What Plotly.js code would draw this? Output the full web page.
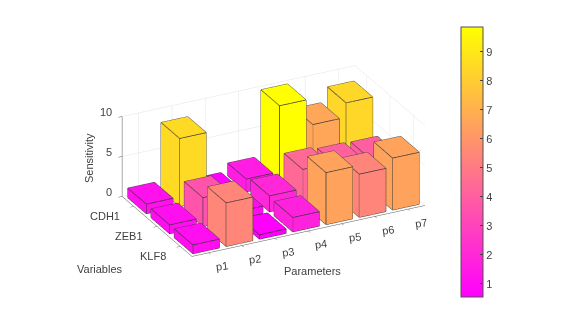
<!DOCTYPE html>
<html>
<head>
<meta charset="utf-8">
<script src="https://cdn.plot.ly/plotly-3.0.1.min.js"></script>
<style>
    html, body { margin: 0; padding: 0; background: #fff; }
    #chart { width: 561px; height: 320px; }
</style>
</head>
<body>
<div id="chart"></div>
<script>
const parameters = ['p1', 'p2', 'p3', 'p4', 'p5', 'p6', 'p7'];
const variables = ['KLF8', 'ZEB1', 'CDH1'];
const klf8 = [1.1, 5.45, 0.55, 1.8, 6.5, 5.4, 6.5];
const zeb1 = [1.1, 3.6, 0.9, 2.0, 4.4, 4.1, 4.0];
const cdh1 = [1.2, 8.5, 0.6, 1.6, 9.86, 6.6, 8.4];
const colorTicks = [1, 2, 3, 4, 5, 6, 7, 8, 9];
const sensitivityTicks = [0, 5, 10];

const rows = [klf8, zeb1, cdh1];
const barHalf = 0.4;
const textColor = '#404040';
const tickFont = { family: 'Liberation Sans, Arial, sans-serif', size: 11, color: textColor };

// 棒ごとに頂点と面を積み上げる
const vx = [], vy = [], vz = [], vi = [], vj = [], vk = [], level = [];
const ex = [], ey = [], ez = [];

function addBar(cx, cy, h) {
    const n = vx.length;
    const xs = [cx - barHalf, cx + barHalf, cx + barHalf, cx - barHalf];
    const ys = [cy - barHalf, cy - barHalf, cy + barHalf, cy + barHalf];
    [0, h].forEach(z => {
        for (let c = 0; c < 4; c++) {
            vx.push(xs[c]); vy.push(ys[c]); vz.push(z); level.push(h);
        }
    });
    const faces = [
        [0, 1, 2], [0, 2, 3], [4, 5, 6], [4, 6, 7],
        [0, 1, 5], [0, 5, 4], [1, 2, 6], [1, 6, 5],
        [2, 3, 7], [2, 7, 6], [3, 0, 4], [3, 4, 7]
    ];
    faces.forEach(f => { vi.push(n + f[0]); vj.push(n + f[1]); vk.push(n + f[2]); });

    // 輪郭線
    for (let c = 0; c < 4; c++) {
        const d = (c + 1) % 4;
        ex.push(xs[c], xs[d], null, xs[c], xs[d], null, xs[c], xs[c], null);
        ey.push(ys[c], ys[d], null, ys[c], ys[d], null, ys[c], ys[c], null);
        ez.push(0, 0, null, h, h, null, 0, h, null);
    }
}

rows.forEach((row, r) => row.forEach((h, p) => addBar(p + 1, r + 1, h)));

const allValues = rows.flat();

const bars = {
    type: 'mesh3d',
    x: vx, y: vy, z: vz, i: vi, j: vj, k: vk,
    intensity: level,
    cmin: Math.min(...allValues),
    cmax: Math.max(...allValues),
    colorscale: [[0, 'rgb(255,0,255)'], [1, 'rgb(255,255,0)']],
    flatshading: true,
    lighting: { ambient: 1, diffuse: 0, specular: 0, roughness: 1, fresnel: 0 },
    hoverinfo: 'skip',
    colorbar: {
        x: 461 / 561, xanchor: 'left', xpad: 0,
        y: 1 - 27 / 320, yanchor: 'top', ypad: 0,
        len: 270, lenmode: 'pixels',
        thickness: 22, thicknessmode: 'pixels',
        tickmode: 'array', tickvals: colorTicks,
        ticks: 'inside', ticklen: 3, tickcolor: '#404040',
        tickfont: tickFont,
        outlinecolor: '#505050', outlinewidth: 1, borderwidth: 0
    }
};

const edges = {
    type: 'scatter3d', mode: 'lines',
    x: ex, y: ey, z: ez,
    line: { color: '#333333', width: 1.5 },
    hoverinfo: 'skip', showlegend: false
};

function sceneAxis(range, vals) {
    return {
        range: range,
        tickmode: 'array', tickvals: vals,
        showticklabels: false,
        title: { text: '' },
        showgrid: true, gridcolor: '#e3e3e3', gridwidth: 1,
        showline: true, linecolor: '#555555', linewidth: 1,
        ticks: 'outside', ticklen: 4, tickcolor: '#555555',
        zeroline: false, showbackground: false, showspikes: false
    };
}

// 目盛ラベルはSVGの注釈で置く
const tickNotes = [];
parameters.forEach((name, p) => tickNotes.push({
    x: p + 1, y: 0.5, z: 0, text: name, showarrow: false, font: tickFont, textangle: -8, xshift: 13, yshift: -14
}));
variables.forEach((name, r) => tickNotes.push({
    x: 0.5, y: r + 1, z: 0, text: name, showarrow: false, font: tickFont, xanchor: 'right', xshift: -12, yshift: -10
}));
sensitivityTicks.forEach(v => tickNotes.push({
    x: 0.5, y: 3.49, z: v, text: String(v), showarrow: false, font: tickFont, xanchor: 'right', xshift: -8, yshift: 4
}));

const titleFont = { family: 'Liberation Sans, Arial, sans-serif', size: 11, color: textColor };

function paperNote(text, px, py, angle) {
    return {
        xref: 'paper', yref: 'paper', x: px / 561, y: 1 - py / 320,
        xanchor: 'center', yanchor: 'middle',
        text: text, showarrow: false, font: titleFont, textangle: angle
    };
}

const layout = {
    width: 561, height: 320,
    margin: { l: 0, r: 0, t: 0, b: 0 },
    paper_bgcolor: '#fff',
    showlegend: false,
    scene: {
        domain: { x: [0, 547 / 561], y: [0.0084, 0.9884] },
        camera: {
            projection: { type: 'orthographic' },
            eye: { x: -0.406 * 2.2, y: -0.805 * 2.2, z: 0.434 * 2.2 },
            up: { x: 0, y: 0, z: 1 },
            center: { x: 0, y: 0, z: 0 }
        },
        aspectmode: 'manual',
        aspectratio: { x: 1.662, y: 0.987, z: 0.565 },
        xaxis: sceneAxis([0.5, 7.5], [1, 2, 3, 4, 5, 6, 7]),
        yaxis: sceneAxis([0.5, 3.5], [1, 2, 3]),
        zaxis: sceneAxis([0, 10], sensitivityTicks),
        annotations: tickNotes
    },
    annotations: [
        paperNote('Parameters', 312, 271, 0),
        paperNote('Variables', 100, 269, 0),
        paperNote('Sensitivity', 89, 158, -90)
    ]
};

Plotly.newPlot('chart', [bars, edges], layout, { displayModeBar: false });
</script>
</body>
</html>
